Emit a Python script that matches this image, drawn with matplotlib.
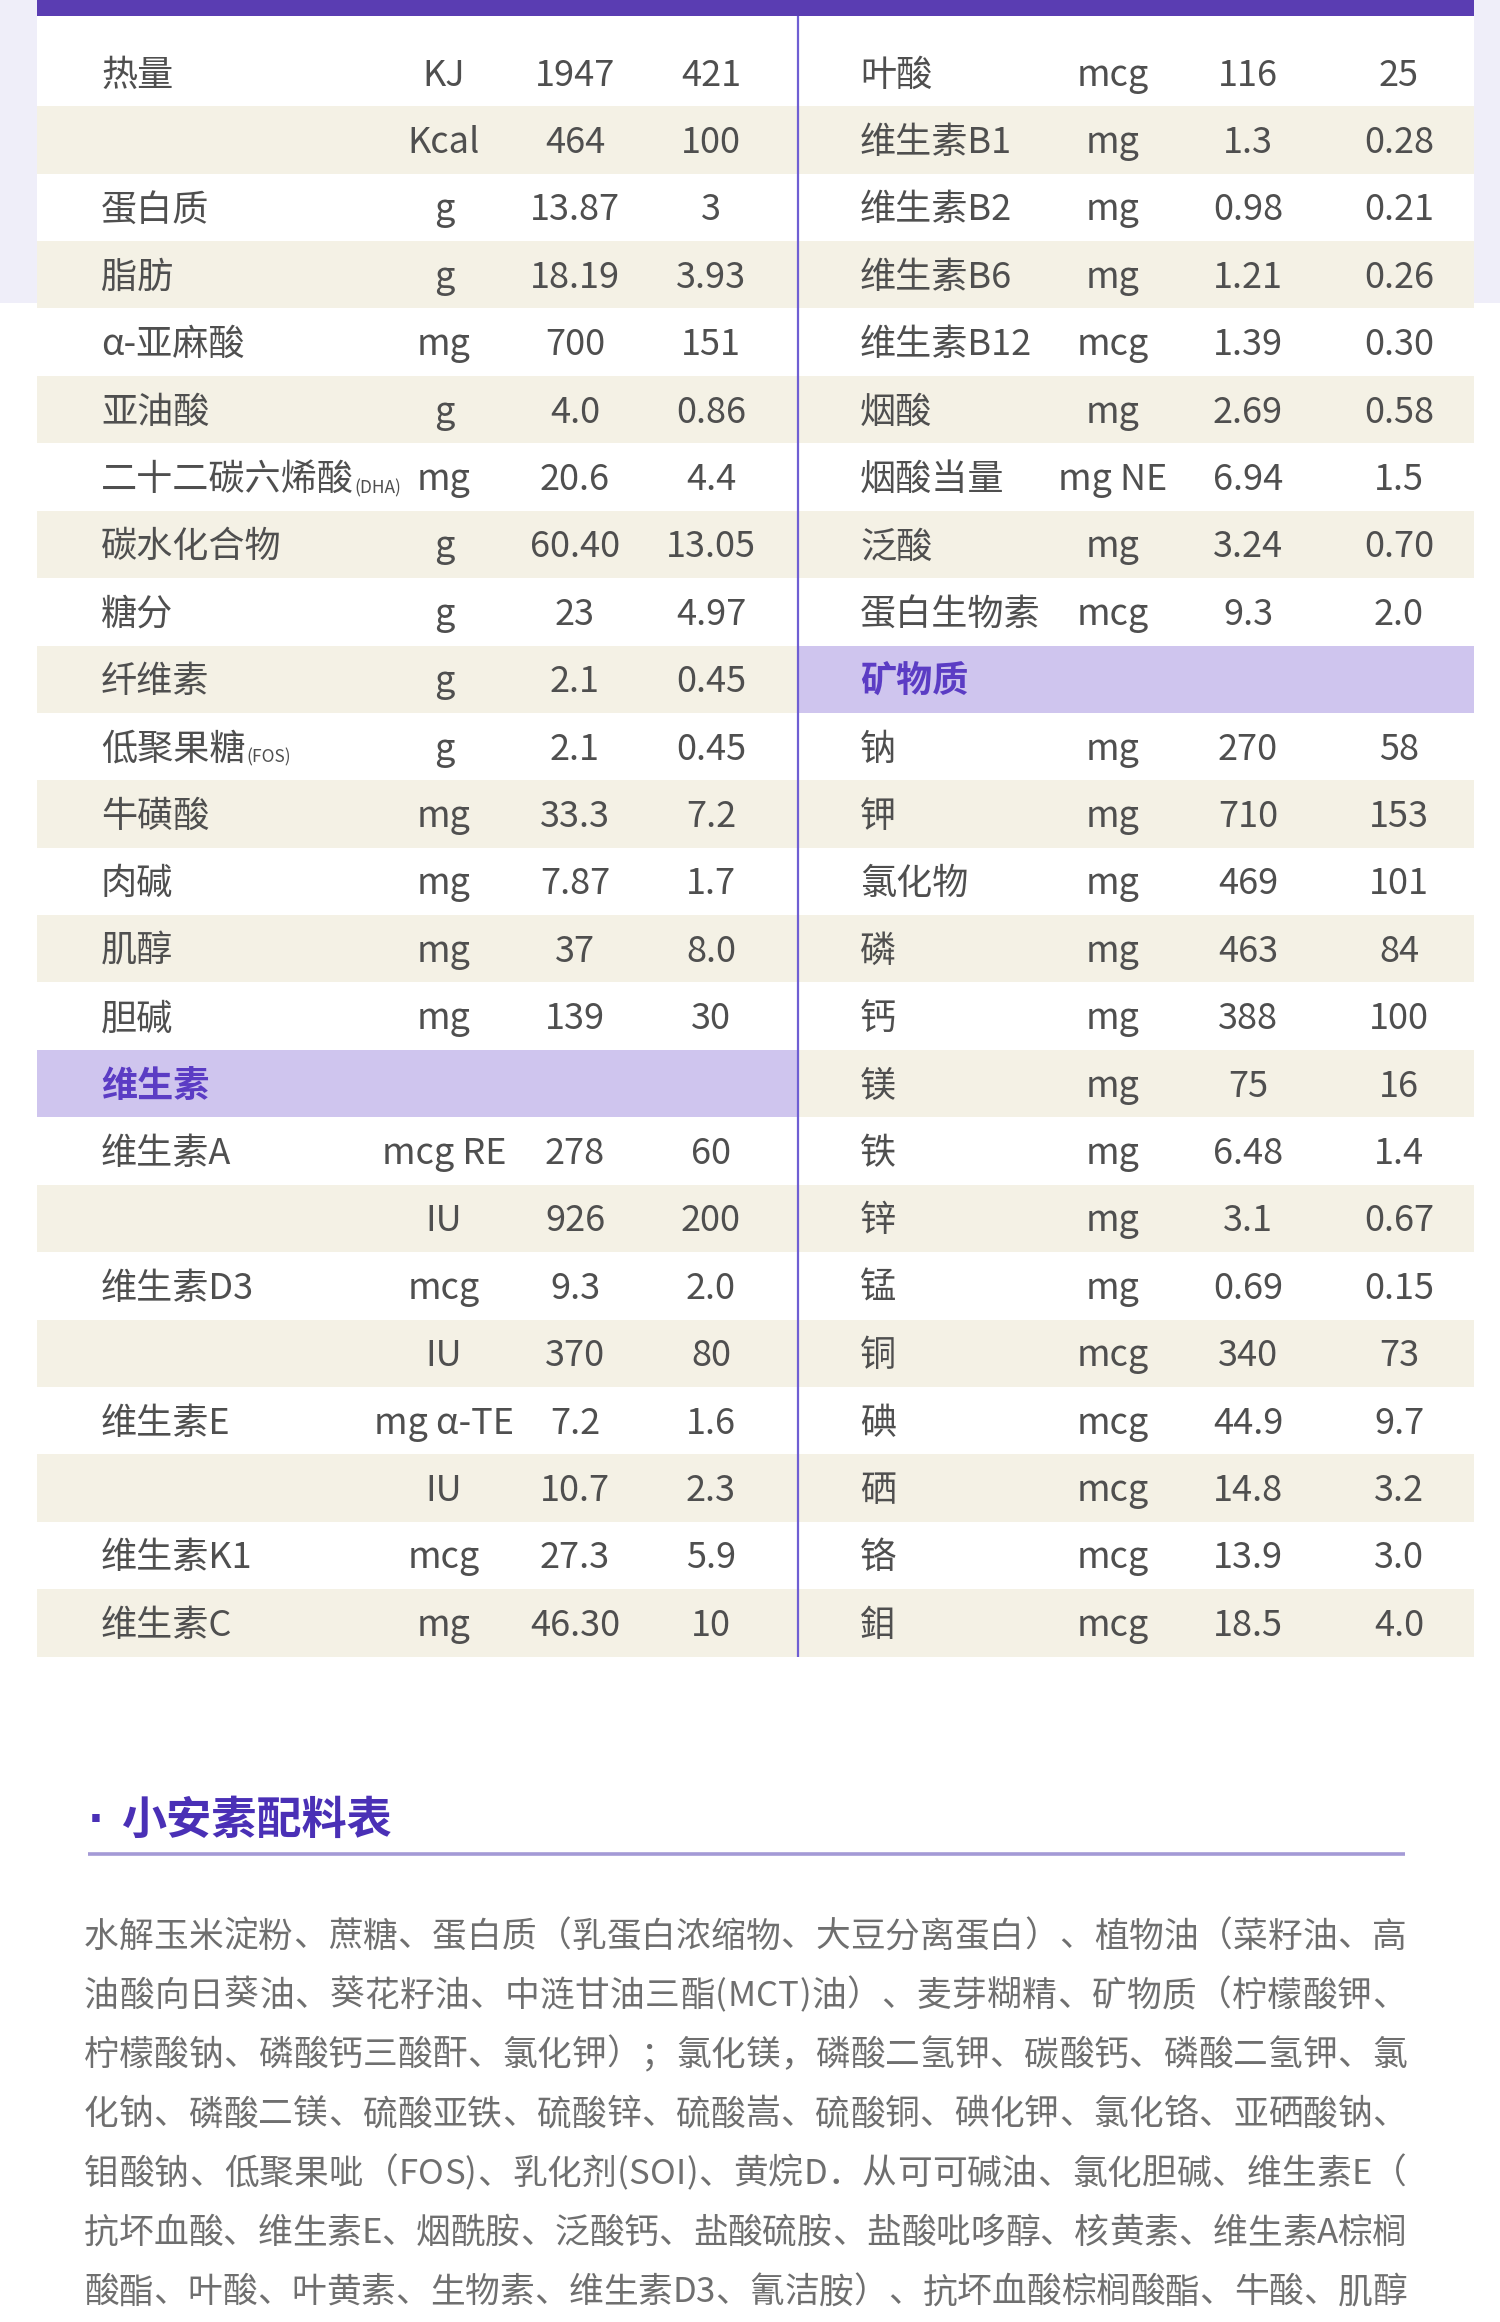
import matplotlib
matplotlib.use("Agg")
import matplotlib.pyplot as plt
from matplotlib.patches import Rectangle
from matplotlib.font_manager import FontProperties

plt.rcParams['font.family'] = ['Noto Sans CJK SC', 'DejaVu Sans']

# ---------------- data ----------------
left_names = ["热量", "", "蛋白质", "脂肪", "α-亚麻酸", "亚油酸", "二十二碳六烯酸", "碳水化合物",
              "糖分", "纤维素", "低聚果糖", "牛磺酸", "肉碱", "肌醇", "胆碱", "维生素",
              "维生素A", "", "维生素D3", "", "维生素E", "", "维生素K1", "维生素C"]
left_suffix = ["", "", "", "", "", "", "(DHA)", "", "", "", "(FOS)", "", "", "", "", "",
               "", "", "", "", "", "", "", ""]
left_units = ["KJ", "Kcal", "g", "g", "mg", "g", "mg", "g", "g", "g", "g", "mg", "mg", "mg",
              "mg", "", "mcg RE", "IU", "mcg", "IU", "mg α-TE", "IU", "mcg", "mg"]
left_v1 = ["1947", "464", "13.87", "18.19", "700", "4.0", "20.6", "60.40", "23", "2.1", "2.1",
           "33.3", "7.87", "37", "139", "", "278", "926", "9.3", "370", "7.2", "10.7", "27.3", "46.30"]
left_v2 = ["421", "100", "3", "3.93", "151", "0.86", "4.4", "13.05", "4.97", "0.45", "0.45",
           "7.2", "1.7", "8.0", "30", "", "60", "200", "2.0", "80", "1.6", "2.3", "5.9", "10"]
left_header = 15

right_names = ["叶酸", "维生素B1", "维生素B2", "维生素B6", "维生素B12", "烟酸", "烟酸当量", "泛酸",
               "蛋白生物素", "矿物质", "钠", "钾", "氯化物", "磷", "钙", "镁", "铁", "锌", "锰",
               "铜", "碘", "硒", "铬", "鉬"]
right_units = ["mcg", "mg", "mg", "mg", "mcg", "mg", "mg NE", "mg", "mcg", "", "mg", "mg", "mg",
               "mg", "mg", "mg", "mg", "mg", "mg", "mcg", "mcg", "mcg", "mcg", "mcg"]
right_v1 = ["116", "1.3", "0.98", "1.21", "1.39", "2.69", "6.94", "3.24", "9.3", "", "270", "710",
            "469", "463", "388", "75", "6.48", "3.1", "0.69", "340", "44.9", "14.8", "13.9", "18.5"]
right_v2 = ["25", "0.28", "0.21", "0.26", "0.30", "0.58", "1.5", "0.70", "2.0", "", "58", "153",
            "101", "84", "100", "16", "1.4", "0.67", "0.15", "73", "9.7", "3.2", "3.0", "4.0"]
right_header = 9

section_title = "小安素配料表"
ingredient_lines = [
    "水解玉米淀粉、蔗糖、蛋白质（乳蛋白浓缩物、大豆分离蛋白）、植物油（菜籽油、高",
    "油酸向日葵油、葵花籽油、中涟甘油三酯(MCT)油）、麦芽糊精、矿物质（柠檬酸钾、",
    "柠檬酸钠、磷酸钙三酸酐、氯化钾）；氯化镁，磷酸二氢钾、碳酸钙、磷酸二氢钾、氯",
    "化钠、磷酸二镁、硫酸亚铁、硫酸锌、硫酸嵩、硫酸铜、碘化钾、氯化铬、亚硒酸钠、",
    "钼酸钠、低聚果呲（FOS)、乳化剂(SOI)、黄烷D．从可可碱油、氯化胆碱、维生素E（",
    "抗坏血酸、维生素E、烟酰胺、泛酸钙、盐酸硫胺、盐酸吡哆醇、核黄素、维生素A棕榈",
    "酸酯、叶酸、叶黄素、生物素、维生素D3、氰洁胺）、抗坏血酸棕榈酸酯、牛酸、肌醇",
]

# ---------------- style ----------------
W, H = 1500, 2322
PURPLE_BAR = "#5a3db2"
DIVIDER = "#6f5fd3"
LAVENDER_BG = "#efeef9"
BEIGE = "#f4f1e5"
HEADER_BG = "#cfc5ee"
HEADER_TXT = "#5b3cc4"
TXT = "#4f4f4f"
PARA_TXT = "#6f6f6f"
TITLE_TXT = "#4a30b6"
FS = 26
TY = 3  # text vertical nudge within rows

fig = plt.figure(figsize=(W / 100, H / 100), dpi=100)
ax = fig.add_axes([0, 0, 1, 1])
ax.set_xlim(0, W)
ax.set_ylim(H, 0)
ax.axis('off')
fig.patch.set_facecolor("white")

TAB_L, TAB_R, DIV_X = 37, 1474, 798
ROW0, ROWH = 72.6, 67.4
BAR_H = 16

# side lavender backgrounds
ax.add_patch(Rectangle((0, 0), TAB_L, 303, color=LAVENDER_BG, lw=0))
ax.add_patch(Rectangle((TAB_R, 0), W - TAB_R, 303, color=LAVENDER_BG, lw=0))
ax.add_patch(Rectangle((TAB_L, 0), TAB_R - TAB_L, 1660, color="white", lw=0))

renderer = fig.canvas.get_renderer()


def draw_column(names, units, v1, v2, header, x0, x1, name_x, unit_x, v1_x, v2_x, suffix=None):
    n = len(names)
    for i in range(n):
        yc = ROW0 + i * ROWH
        top = yc - ROWH / 2
        ty = yc + TY
        if i == header:
            ax.add_patch(Rectangle((x0, top), x1 - x0, ROWH, color=HEADER_BG, lw=0))
            ax.text(name_x, ty, names[i], ha='left', va='center', fontsize=FS,
                    color=HEADER_TXT, fontweight='bold')
            continue
        if i % 2 == 1:
            ax.add_patch(Rectangle((x0, top), x1 - x0, ROWH, color=BEIGE, lw=0))
        if names[i]:
            t = ax.text(name_x, ty, names[i], ha='left', va='center', fontsize=FS, color=TXT)
            if suffix is not None and suffix[i]:
                bb = t.get_window_extent(renderer=renderer)
                ax.text(name_x + bb.width + 1, ty + 13, suffix[i], ha='left', va='baseline',
                        fontsize=12.5, color=TXT)
        ax.text(unit_x, ty, units[i], ha='center', va='center', fontsize=FS, color=TXT)
        ax.text(v1_x, ty, v1[i], ha='center', va='center', fontsize=FS, color=TXT)
        ax.text(v2_x, ty, v2[i], ha='center', va='center', fontsize=FS, color=TXT)


draw_column(left_names, left_units, left_v1, left_v2, left_header,
            TAB_L, DIV_X, 101, 444, 575, 711, suffix=left_suffix)
draw_column(right_names, right_units, right_v1, right_v2, right_header,
            DIV_X, TAB_R, 860, 1113, 1248, 1399)

# top purple bar and divider
ax.add_patch(Rectangle((TAB_L, 0), TAB_R - TAB_L, BAR_H, color=PURPLE_BAR, lw=0))
table_bottom = ROW0 + (len(left_names) - 0.5) * ROWH
ax.plot([DIV_X, DIV_X], [BAR_H, table_bottom], color=DIVIDER, lw=1.6, solid_capstyle='butt')

# section title
ax.text(96, 1821, "·", ha='center', va='center', fontsize=30, color=TITLE_TXT,
        fontweight='bold', family=['DejaVu Sans'])
ax.text(121, 1821, section_title, ha='left', va='center', fontsize=32.5, color=TITLE_TXT,
        fontweight='bold')
ax.plot([88, 1405], [1854, 1854], color="#a49ad6", lw=2.6, solid_capstyle='butt')

# ingredient paragraph (justified)
fp = FontProperties(family=['Noto Sans CJK SC'], size=25)
PX0, PX1 = 84, 1407
PY0, PDY = 1937, 59.3
for k, line in enumerate(ingredient_lines):
    y = PY0 + k * PDY
    widths = [renderer.get_text_width_height_descent(c, fp, ismath=False)[0] for c in line]
    total = sum(widths)
    gap = (PX1 - PX0 - total) / (len(line) - 1)
    x = PX0
    for c, w in zip(line, widths):
        ax.text(x, y, c, ha='left', va='center', fontproperties=fp, color=PARA_TXT)
        x += w + gap

fig.savefig("out.png", dpi=100, facecolor="white")
